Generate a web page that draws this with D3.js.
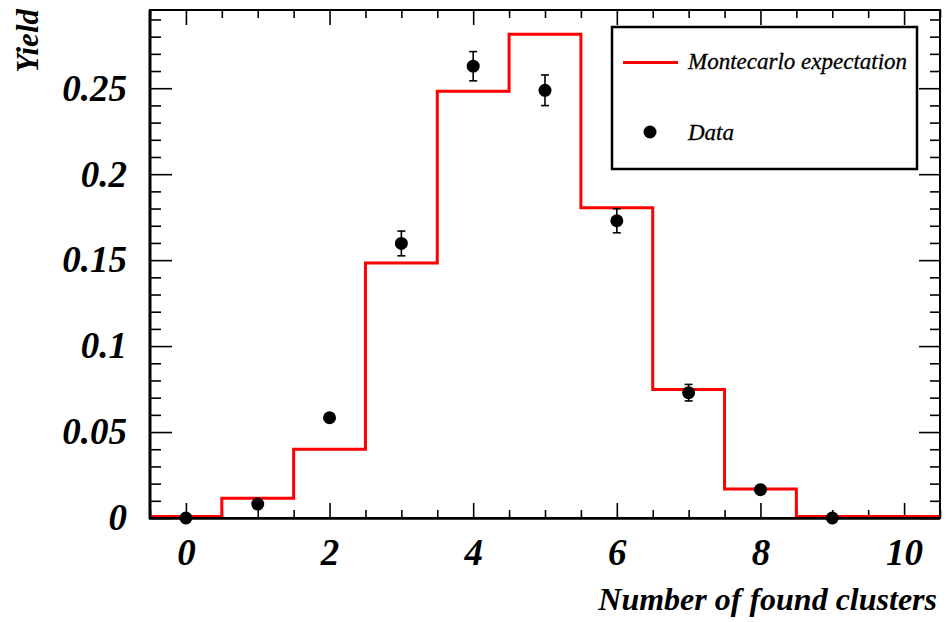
<!DOCTYPE html>
<html>
<head>
<meta charset="utf-8">
<script src="https://cdn.jsdelivr.net/npm/d3@7"></script>
<style>
  html, body { margin: 0; padding: 0; background: #fff; }
  svg { display: block; }
  text { font-family: "Liberation Serif", "Times New Roman", serif; }
</style>
</head>
<body>
<svg id="chart" width="952" height="622"></svg>
<script>
// Number of found clusters (bin centres)
const clusterBins = [0, 1, 2, 3, 4, 5, 6, 7, 8, 9, 10];
// Monte Carlo expected yield per bin
const mcExpectation = [0, 0.0115, 0.040, 0.1484, 0.2483, 0.2814, 0.1804, 0.0748, 0.0169, 0, 0];
// Measured yield with statistical errors
const dataBins = [0, 1, 2, 3, 4, 5, 6, 7, 8, 9];
const dataYield = [0, 0.0081, 0.0583, 0.1597, 0.2628, 0.2488, 0.1729, 0.0729, 0.0165, 0];
const dataError = [0, 0.0015, 0.0025, 0.0072, 0.0085, 0.0089, 0.0070, 0.0048, 0.002, 0];
// Axis ticks
const xMajorTicks = [0, 2, 4, 6, 8, 10];
const xTickLabels = ["0", "2", "4", "6", "8", "10"];
const yMajorTicks = [0, 0.05, 0.1, 0.15, 0.2, 0.25];
const yTickLabels = ["0", "0.05", "0.1", "0.15", "0.2", "0.25"];
const legendLabels = ["Montecarlo expectation", "Data"];

const svg = d3.select("#chart");
const plotLeft = 150, plotRight = 940, plotTop = 10, plotBottom = 518;

const x = d3.scaleLinear().domain([-0.5, 10.5]).range([plotLeft, plotRight]);
const y = d3.scaleLinear().domain([0, 0.2955]).range([plotBottom, plotTop]);

const xMinorTicks = d3.range(-0.5, 10.51, 0.5).filter(v => !xMajorTicks.includes(v));
const yMinorTicks = d3.range(0, 0.2951, 0.01).map(v => +v.toFixed(2))
  .filter(v => !yMajorTicks.some(m => Math.abs(m - v) < 1e-6));

const tickStyle = g => {
  g.select(".domain").remove();
  g.selectAll(".tick line").attr("stroke", "#000").attr("stroke-width", 1.6);
};

// Bottom axis: labels + major ticks pointing inwards
const xAxis = svg.append("g").attr("transform", `translate(0,${plotBottom})`)
  .call(d3.axisBottom(x).tickValues(xMajorTicks).tickSize(-15).tickPadding(21)
    .tickFormat((d, i) => xTickLabels[i]))
  .call(tickStyle);
xAxis.selectAll(".tick text")
  .attr("font-size", 37).attr("font-weight", "bold").attr("font-style", "italic")
  .attr("fill", "#000").attr("font-family", "Liberation Serif, serif");
svg.append("g").attr("transform", `translate(0,${plotBottom})`)
  .call(d3.axisBottom(x).tickValues(xMinorTicks).tickSize(-8).tickFormat(""))
  .call(tickStyle);
// Top axis ticks
svg.append("g").attr("transform", `translate(0,${plotTop})`)
  .call(d3.axisTop(x).tickValues(xMajorTicks).tickSize(-15).tickFormat(""))
  .call(tickStyle);
svg.append("g").attr("transform", `translate(0,${plotTop})`)
  .call(d3.axisTop(x).tickValues(xMinorTicks).tickSize(-8).tickFormat(""))
  .call(tickStyle);

// Left axis
const yAxis = svg.append("g").attr("transform", `translate(${plotLeft},0)`)
  .call(d3.axisLeft(y).tickValues(yMajorTicks).tickSize(-22).tickPadding(23)
    .tickFormat((d, i) => yTickLabels[i]))
  .call(tickStyle);
yAxis.selectAll(".tick text")
  .attr("font-size", 37).attr("font-weight", "bold").attr("font-style", "italic")
  .attr("fill", "#000").attr("font-family", "Liberation Serif, serif");
svg.append("g").attr("transform", `translate(${plotLeft},0)`)
  .call(d3.axisLeft(y).tickValues(yMinorTicks).tickSize(-11).tickFormat(""))
  .call(tickStyle);
// Right axis ticks
svg.append("g").attr("transform", `translate(${plotRight},0)`)
  .call(d3.axisRight(y).tickValues(yMajorTicks).tickSize(-21).tickFormat(""))
  .call(tickStyle);
svg.append("g").attr("transform", `translate(${plotRight},0)`)
  .call(d3.axisRight(y).tickValues(yMinorTicks).tickSize(-10).tickFormat(""))
  .call(tickStyle);

// Monte Carlo histogram drawn as a step line
const stepPts = [];
clusterBins.forEach((b, i) => {
  stepPts.push([x(b - 0.5), y(mcExpectation[i])]);
  stepPts.push([x(b + 0.5), y(mcExpectation[i])]);
});
svg.append("path")
  .attr("d", d3.line()(stepPts.map(p => [p[0], Math.min(p[1], plotBottom - 1.5)])))
  .attr("fill", "none").attr("stroke", "#ff0000").attr("stroke-width", 3);

// Frame
svg.append("rect")
  .attr("x", plotLeft).attr("y", plotTop).attr("width", plotRight - plotLeft).attr("height", plotBottom - plotTop)
  .attr("fill", "none").attr("stroke", "#000").attr("stroke-width", 2);
svg.append("line").attr("x1", plotLeft - 1).attr("x2", plotRight).attr("y1", plotBottom + 0.5).attr("y2", plotBottom + 0.5)
  .attr("stroke", "#000").attr("stroke-width", 2.5);
svg.append("line").attr("x1", plotLeft).attr("x2", plotLeft).attr("y1", plotTop).attr("y2", plotBottom + 1)
  .attr("stroke", "#000").attr("stroke-width", 3);

// Data points with error bars
const r = 6.5;
const pts = svg.append("g");
dataBins.forEach((b, i) => {
  const cx = x(b), cy = y(dataYield[i]);
  const yHi = y(dataYield[i] + dataError[i]), yLo = y(dataYield[i] - dataError[i]);
  if (cy - yHi > r) {
    pts.append("line").attr("x1", cx).attr("x2", cx).attr("y1", yHi).attr("y2", yLo)
      .attr("stroke", "#000").attr("stroke-width", 1.6);
    [yHi, yLo].forEach(yy => pts.append("line")
      .attr("x1", cx - 4).attr("x2", cx + 4).attr("y1", yy).attr("y2", yy)
      .attr("stroke", "#000").attr("stroke-width", 1.6));
  }
  pts.append("circle").attr("cx", cx).attr("cy", cy).attr("r", r).attr("fill", "#000");
});

// Axis titles
svg.append("text").attr("x", 937).attr("y", 610).attr("text-anchor", "end")
  .attr("font-size", 32).attr("font-weight", "bold").attr("font-style", "italic")
  .text("Number of found clusters");
svg.append("text").attr("transform", "translate(38,9) rotate(-90)").attr("text-anchor", "end")
  .attr("font-size", 31).attr("font-weight", "bold").attr("font-style", "italic")
  .text("Yield");

// Legend
const lg = svg.append("g");
lg.append("rect").attr("x", 612).attr("y", 27).attr("width", 305).attr("height", 142)
  .attr("fill", "#fff").attr("stroke", "#000").attr("stroke-width", 2.5);
lg.append("line").attr("x1", 623).attr("x2", 678).attr("y1", 62.5).attr("y2", 62.5)
  .attr("stroke", "#ff0000").attr("stroke-width", 3);
lg.append("circle").attr("cx", 650).attr("cy", 132).attr("r", r).attr("fill", "#000");
lg.selectAll("text.lab").data(legendLabels).join("text").attr("class", "lab")
  .attr("x", 688).attr("y", (d, i) => i === 0 ? 69 : 140)
  .attr("font-size", 23).attr("font-style", "italic")
  .attr("stroke", "#000").attr("stroke-width", 0.3)
  .text(d => d);
</script>
</body>
</html>
